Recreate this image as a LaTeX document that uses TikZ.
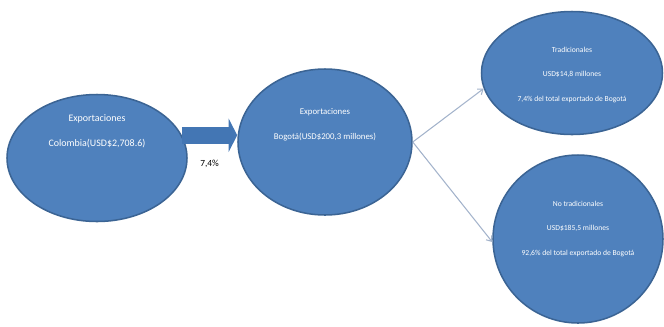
\documentclass[tikz,border=0pt]{standalone}
\usepackage{fontspec}
\setmainfont{Carlito}
\usetikzlibrary{shapes.geometric,arrows.meta}
\definecolor{officeblue}{HTML}{4F81BD}
\definecolor{officeedge}{HTML}{3B6494}
\definecolor{shaftblue}{HTML}{4376B4}
\definecolor{thinarrow}{HTML}{A3B3CB}

\tikzstyle{bubble}=[ellipse,draw=officeedge,line width=1.3pt,fill=officeblue,inner sep=0pt]
\tikzstyle{bubbletext}=[text=white,align=center,inner sep=0pt]
\tikzstyle{blockarrow}=[draw=shaftblue,line width=0.5cm,-{Triangle[length=0.26cm,width=1cm]}]
\tikzstyle{branch}=[draw=thinarrow,line width=0.9pt,-{Straight Barb[length=4pt,width=6pt]}]
\tikzstyle{rate}=[font=\fontsize{8}{10}\selectfont]

\begin{document}
\begin{tikzpicture}[x=0.03cm,y=-0.03cm]
      \useasboundingbox (0,0) rectangle (664,326);
      %ellipses
      \foreach \nodename/\x/\y/\w/\h/\fsize/\lift/\lines in {
        colombia/97/158/180/127/8.5/27/{Exportaciones\\Colombia(USD\$2,708.6)},
        bogota/325/142/174/146/7.5/17/{Exportaciones\\Bogotá(USD\$200,3 millones)},
        trad/572/73/181/123/6.5/-2/{Tradicionales\\USD\$14,8 millones\\7,4\% del total exportado de Bogotá},
        notrad/578/239/170/168/6.5/10/{No tradicionales\\USD\$185,5 millones\\92,6\% del total exportado de Bogotá}}
      {
        \node[bubble, minimum width=\w*0.03cm, minimum height=\h*0.03cm,
          label={[bubbletext,font=\fontsize{\fsize}{21}\selectfont,yshift=\lift*0.03cm]center:{\lines}}] (\nodename) at (\x,\y) {};
      };

      %arrows
      \draw[blockarrow] (colombia.15) -- (colombia.15 -| bogota.west) node[rate,midway,below=11pt] {7,4\%};
      \draw[branch] (bogota.east) -- (trad.190);
      \draw[branch] (bogota.east) -- (notrad.182);
\end{tikzpicture}
\end{document}
